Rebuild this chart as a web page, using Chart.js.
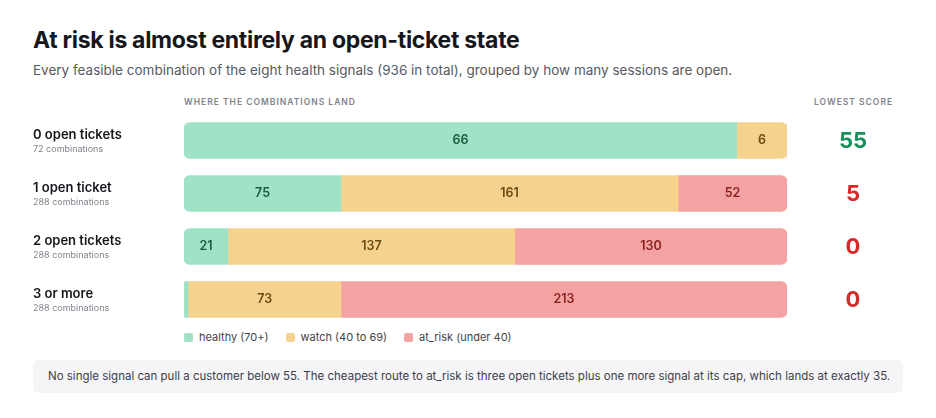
<!DOCTYPE html>
<html><head><meta charset="utf-8">
<script src="https://cdn.jsdelivr.net/npm/chart.js@4"></script>
<style>
body{margin:0;width:936px;height:418px;background:#fff;font-family:Inter,"Noto Sans",sans-serif;position:relative;overflow:hidden;color:#15171c}
h1{position:absolute;left:33px;top:26px;margin:0;font-size:23px;font-weight:700;letter-spacing:-0.3px}
.sub{position:absolute;left:33px;top:62px;font-size:13.5px;color:#555a63}
.cap{position:absolute;top:97px;font-size:8.5px;font-weight:600;letter-spacing:1px;color:#80848c}
#wrap{position:absolute;left:0;top:114px;width:936px;height:212px}
.legend{position:absolute;left:184px;top:330px;font-size:11px;color:#444;display:flex;gap:17px}
.legend span i{display:inline-block;width:9px;height:9px;border-radius:2px;margin-right:6px;vertical-align:-1px}
.note{position:absolute;left:33px;top:360px;width:870px;height:33px;background:#f5f5f8;border-radius:6px;font-size:11.5px;color:#3c4048;line-height:33px;padding-left:15px;box-sizing:border-box}
</style></head><body>
<h1>At risk is almost entirely an open-ticket state</h1>
<div class="sub">Every feasible combination of the eight health signals (936 in total), grouped by how many sessions are open.</div>
<div class="cap" style="left:184px">WHERE THE COMBINATIONS LAND</div>
<div class="cap" style="left:814px">LOWEST SCORE</div>
<div id="wrap"><canvas id="c"></canvas></div>
<div class="legend">
<span><i style="background:#9fe2c6"></i>healthy (70+)</span>
<span><i style="background:#f5d38e"></i>watch (40 to 69)</span>
<span><i style="background:#f4a3a3"></i>at_risk (under 40)</span>
</div>
<div class="note">No single signal can pull a customer below 55. The cheapest route to at_risk is three open tickets plus one more signal at its cap, which lands at exactly 35.</div>
<script>
const groups = ['0 open tickets', '1 open ticket', '2 open tickets', '3 or more'];
const totals = [72, 288, 288, 288];
const healthy = [66, 75, 21, 2];
const watch = [6, 161, 137, 73];
const atRisk = [0, 52, 130, 213];
const lowest = [55, 5, 0, 0];

const series = [
    {label: 'healthy', counts: healthy, bg: '#9fe2c6', fg: '#17603f'},
    {label: 'watch', counts: watch, bg: '#f5d38e', fg: '#6b4a12'},
    {label: 'at_risk', counts: atRisk, bg: '#f4a3a3', fg: '#8a1f1f'}
];
const all = series.map(s => s.counts);

function radius(ctx) {
    const i = ctx.dataIndex, d = ctx.datasetIndex;
    if (all[d][i] === 0) return 0;
    let first = all.findIndex(a => a[i] > 0);
    let last = all.length - 1 - [...all].reverse().findIndex(a => a[i] > 0);
    const r = 6;
    return {
        topLeft: d === first ? r : 0, bottomLeft: d === first ? r : 0,
        topRight: d === last ? r : 0, bottomRight: d === last ? r : 0
    };
}

const sidePlugin = {
    id: 'side',
    afterDatasetsDraw(chart) {
        const c = chart.ctx, y = chart.scales.y, x = chart.scales.x;
        c.save();
        // segment counts
        chart.data.datasets.forEach((ds, d) => {
            chart.getDatasetMeta(d).data.forEach((bar, i) => {
                const n = series[d].counts[i];
                if (n < 5) return;
                c.fillStyle = series[d].fg;
                c.font = '600 12.5px Inter';
                c.textAlign = 'center'; c.textBaseline = 'middle';
                c.fillText(n, (bar.base + bar.x) / 2, bar.y);
            });
        });
        groups.forEach((g, i) => {
            const cy = y.getPixelForValue(i);
            c.textAlign = 'left'; c.textBaseline = 'alphabetic';
            c.fillStyle = '#15171c'; c.font = '600 13px Inter';
            c.fillText(g, 33, cy - 2);
            c.fillStyle = '#80848c'; c.font = '9px Inter';
            c.fillText(totals[i] + ' combinations', 33, cy + 11);
            c.textAlign = 'center'; c.textBaseline = 'middle';
            c.font = '700 22px Inter';
            c.fillStyle = lowest[i] >= 40 ? '#16915a' : '#d42a2a';
            c.fillText(lowest[i], 853, cy + 1);
        });
        c.restore();
    }
};

new Chart(document.getElementById('c'), {
    type: 'bar',
    data: {
        labels: groups,
        datasets: series.map(s => ({
            label: s.label,
            data: s.counts.map((n, i) => n / totals[i] * 100),
            backgroundColor: s.bg,
            borderSkipped: false,
            borderRadius: radius,
            barThickness: 36
        }))
    },
    options: {
        indexAxis: 'y',
        responsive: true,
        maintainAspectRatio: false,
        animation: false,
        layout: {padding: {left: 184, right: 149, top: 0, bottom: 0}},
        scales: {
            x: {stacked: true, min: 0, max: 100, display: false},
            y: {stacked: true, display: false}
        },
        plugins: {legend: {display: false}, tooltip: {enabled: false}}
    },
    plugins: [sidePlugin]
});
</script>
</body></html>
